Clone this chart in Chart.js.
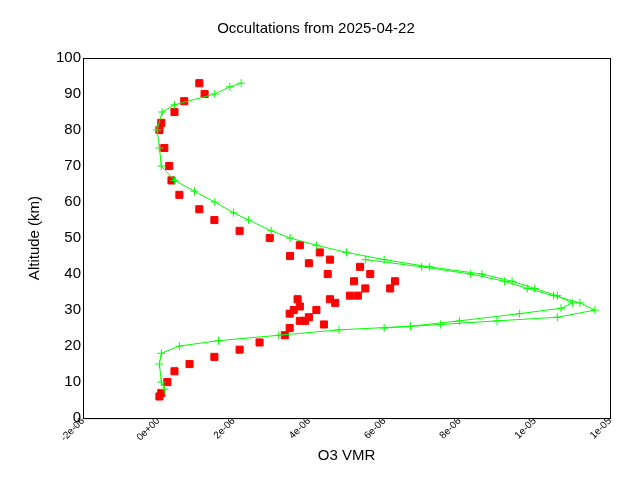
<!DOCTYPE html>
<html><head><meta charset="utf-8">
<script src="https://cdn.jsdelivr.net/npm/chart.js@4"></script>
<style>html,body{margin:0;background:#fff}#w{width:640px;height:480px}</style>
</head><body><div id="w"><canvas id="c"></canvas></div>
<script>
const greenAlt1 = [93,92,90,87,85,80,75,70,66,63,60,57,55,52,50,48,46,44,42,40,38,36,34,32,30.5,29,27,25.5,24.5,23,21.5,20,18,15,10,8];
const greenVmr1 = [2.2,1.9,1.5,0.43,0.1,-0.03,0.03,0.08,0.43,0.96,1.5,2.0,2.4,3.0,3.5,4.2,5.0,6.0,7.2,8.6,9.4,10.0,10.6,11.0,10.7,9.6,8.0,6.7,4.8,3.2,1.6,0.56,0.08,0.03,0.08,0.16];
const greenAlt2 = [44,42,40,38,36,34,32,30,28,27,26,25];
const greenVmr2 = [5.5,7.0,8.3,9.2,9.8,10.5,11.2,11.6,10.6,9.0,7.5,6.0];
const redAlt1 = [93,90,88,85,82,80,75,70,66,62,58,55,52,50,48,46,44,42,40,38,36,34,33,31,29,27,25,23,21,19,17,15,13,10,7,6];
const redVmr1 = [1.09,1.23,0.69,0.43,0.08,0.03,0.16,0.29,0.35,0.56,1.09,1.49,2.16,2.96,3.76,4.29,4.56,5.36,5.63,6.29,6.16,5.09,4.56,3.76,3.49,3.76,3.49,3.36,2.69,2.16,1.49,0.83,0.43,0.24,0.08,0.03];
const redAlt2 = [45,43,40,38,36,34,32,30,28,26,33,30,27];
const redVmr2 = [3.5,4.0,4.5,5.2,5.5,5.3,4.7,4.2,4.0,4.4,3.7,3.6,3.9];
const xTickLabels = ["-2e-06","0e+00","2e-06","4e-06","6e-06","8e-06","1e-05","1e-05"];
const pts=(a,v)=>a.map((y,i)=>({x:v[i]*1e-6,y}));
const box={id:'box',afterDraw(c){const a=c.chartArea,g=c.ctx;g.save();g.strokeStyle='#000';g.lineWidth=1;g.strokeRect(a.left+0.5,a.top+0.5,a.right-a.left,a.bottom-a.top);g.restore();}};
Chart.defaults.font.family="'Liberation Sans', Arial, sans-serif";
Chart.defaults.color='#000';
new Chart(document.getElementById('c'),{type:'scatter',
data:{datasets:[
{data:pts(greenAlt1,greenVmr1),showLine:true,borderColor:'#00ff00',backgroundColor:'#00ff00',borderWidth:1,pointStyle:'cross',pointRadius:4,pointBorderWidth:1},
{data:pts(greenAlt2,greenVmr2),showLine:true,borderColor:'#00ff00',backgroundColor:'#00ff00',borderWidth:1,pointStyle:'cross',pointRadius:4,pointBorderWidth:1},
{data:pts(redAlt1,redVmr1),showLine:false,borderColor:'#ff0000',backgroundColor:'#ff0000',pointStyle:'rect',pointRadius:5},
{data:pts(redAlt2,redVmr2),showLine:false,borderColor:'#ff0000',backgroundColor:'#ff0000',pointStyle:'rect',pointRadius:5}
]},
options:{responsive:true,maintainAspectRatio:false,animation:false,
layout:{padding:{left:22,right:30,top:10,bottom:11}},
plugins:{legend:{display:false},tooltip:{enabled:false},
title:{display:true,text:'Occultations from 2025-04-22',font:{size:15,weight:'normal'},padding:{top:10,bottom:20}}},
scales:{
x:{min:-2e-6,max:1.2e-5,grid:{display:false,drawTicks:true,tickLength:-6},border:{color:'#000'},
afterBuildTicks(s){s.ticks=xTickLabels.map((_,i)=>({value:-2e-6+i*2e-6}));},
ticks:{maxRotation:45,minRotation:45,font:{size:10},callback:(v,i)=>xTickLabels[i]},
title:{display:true,text:'O3 VMR',font:{size:15},padding:{top:0}}},
y:{min:0,max:100,grid:{display:false,tickLength:-6},border:{color:'#000'},
ticks:{stepSize:10,font:{size:15},padding:8},
title:{display:true,text:'Altitude (km)',font:{size:15}}}
}},plugins:[box]});
</script></body></html>
